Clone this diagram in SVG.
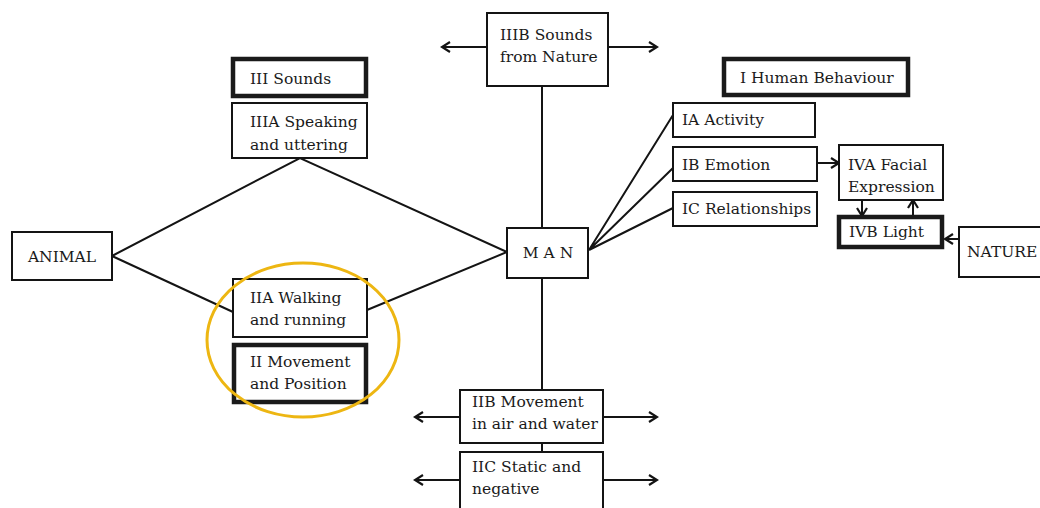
<svg xmlns="http://www.w3.org/2000/svg" width="1040" height="508" viewBox="0 0 1040 508">
  <style>
    .box { fill: #fff; stroke: #141414; stroke-width: 2; }
    .main { fill: #fff; stroke: #1a1a1a; stroke-width: 4.5; }
    .lbl { font-family: "DejaVu Serif", "Liberation Serif", serif; font-size: 15.5px; fill: #1a1a1a; }
    .mid { text-anchor: middle; }
    .edge { fill: none; stroke: #141414; stroke-width: 2; }
    .arr { marker-end: url(#chev); }
  </style>
  <defs>
    <marker id="chev" viewBox="0 0 12 12" refX="10" refY="6" markerWidth="12" markerHeight="12" markerUnits="userSpaceOnUse" orient="auto">
      <path d="M2,1 L10,6 L2,11" fill="none" stroke="#141414" stroke-width="2.2" stroke-linejoin="miter"/>
    </marker>
  </defs>

  <rect width="1040" height="508" fill="#fff"/>

  <!-- connectors -->
  <g id="connectors">
    <path class="edge" d="M112,256 L300,158 L507,252 L367,310"/>
    <path class="edge" d="M112,256 L233,312"/>
    <path class="edge" d="M542,86 V228"/>
    <path class="edge" d="M542,278 V390"/>
    <path class="edge" d="M542,443 V452"/>
    <path class="edge" d="M589,250 L673,115 M589,250 L673,168 M589,250 L673,208"/>
    <path class="edge arr" d="M487,47 H442"/>
    <path class="edge arr" d="M608,47 H657"/>
    <path class="edge arr" d="M460,417 H415"/>
    <path class="edge arr" d="M603,417 H657"/>
    <path class="edge arr" d="M460,480 H415"/>
    <path class="edge arr" d="M603,480 H657"/>
    <path class="edge arr" d="M817,163 H839"/>
    <path class="edge arr" d="M862,200 V216"/>
    <path class="edge arr" d="M913,216 V200"/>
    <path class="edge arr" d="M959,239 H945"/>
  </g>

  <g id="animal">
    <rect class="box" x="12" y="232" width="100" height="48"/>
    <text class="lbl mid" x="62" y="262">ANIMAL</text>
  </g>

  <g id="man">
    <rect class="box" x="507" y="228" width="81" height="50"/>
    <text class="lbl mid" x="548" y="258">M A N</text>
  </g>

  <g id="iiib-sounds-from-nature">
    <rect class="box" x="487" y="13" width="121" height="73"/>
    <text class="lbl" x="500" y="40">IIIB Sounds</text>
    <text class="lbl" x="500" y="62">from Nature</text>
  </g>

  <g id="iii-sounds">
    <rect class="main" x="233" y="59" width="133" height="37"/>
    <text class="lbl" x="250" y="84">III Sounds</text>
  </g>

  <g id="iiia-speaking">
    <rect class="box" x="232" y="103" width="135" height="55"/>
    <text class="lbl" x="250" y="127">IIIA Speaking</text>
    <text class="lbl" x="250" y="150">and uttering</text>
  </g>

  <g id="iia-walking">
    <rect class="box" x="233" y="279" width="134" height="58"/>
    <text class="lbl" x="250" y="303">IIA Walking</text>
    <text class="lbl" x="250" y="325">and running</text>
  </g>

  <g id="ii-movement">
    <rect class="main" x="234" y="345" width="132" height="57"/>
    <text class="lbl" x="250" y="367">II Movement</text>
    <text class="lbl" x="250" y="389">and Position</text>
  </g>

  <!-- highlight ring round the walking / movement pair -->
  <ellipse cx="303" cy="340" rx="96" ry="77" fill="none" stroke="#EDB612" stroke-width="3"/>

  <g id="iib-movement">
    <rect class="box" x="460" y="390" width="143" height="53"/>
    <text class="lbl" x="472" y="407">IIB Movement</text>
    <text class="lbl" x="472" y="429">in air and water</text>
  </g>

  <g id="iic-static">
    <rect class="box" x="460" y="452" width="143" height="70"/>
    <text class="lbl" x="472" y="472">IIC Static and</text>
    <text class="lbl" x="472" y="494">negative</text>
  </g>

  <g id="i-human-behaviour">
    <rect class="main" x="724" y="59" width="184" height="36"/>
    <text class="lbl" x="740" y="83">I Human Behaviour</text>
  </g>

  <g id="ia-activity">
    <rect class="box" x="673" y="103" width="142" height="34"/>
    <text class="lbl" x="682" y="125">IA Activity</text>
  </g>

  <g id="ib-emotion">
    <rect class="box" x="673" y="147" width="144" height="34"/>
    <text class="lbl" x="682" y="170">IB Emotion</text>
  </g>

  <g id="ic-relationships">
    <rect class="box" x="673" y="192" width="144" height="34"/>
    <text class="lbl" x="682" y="214">IC Relationships</text>
  </g>

  <g id="iva-facial-expression">
    <rect class="box" x="839" y="145" width="104" height="55"/>
    <text class="lbl" x="848" y="170">IVA Facial</text>
    <text class="lbl" x="848" y="192">Expression</text>
  </g>

  <g id="ivb-light">
    <rect class="main" x="839" y="217" width="103" height="30"/>
    <text class="lbl" x="849" y="237">IVB Light</text>
  </g>

  <g id="nature">
    <rect class="box" x="959" y="227" width="100" height="50"/>
    <text class="lbl" x="967" y="257">NATURE</text>
  </g>
</svg>
